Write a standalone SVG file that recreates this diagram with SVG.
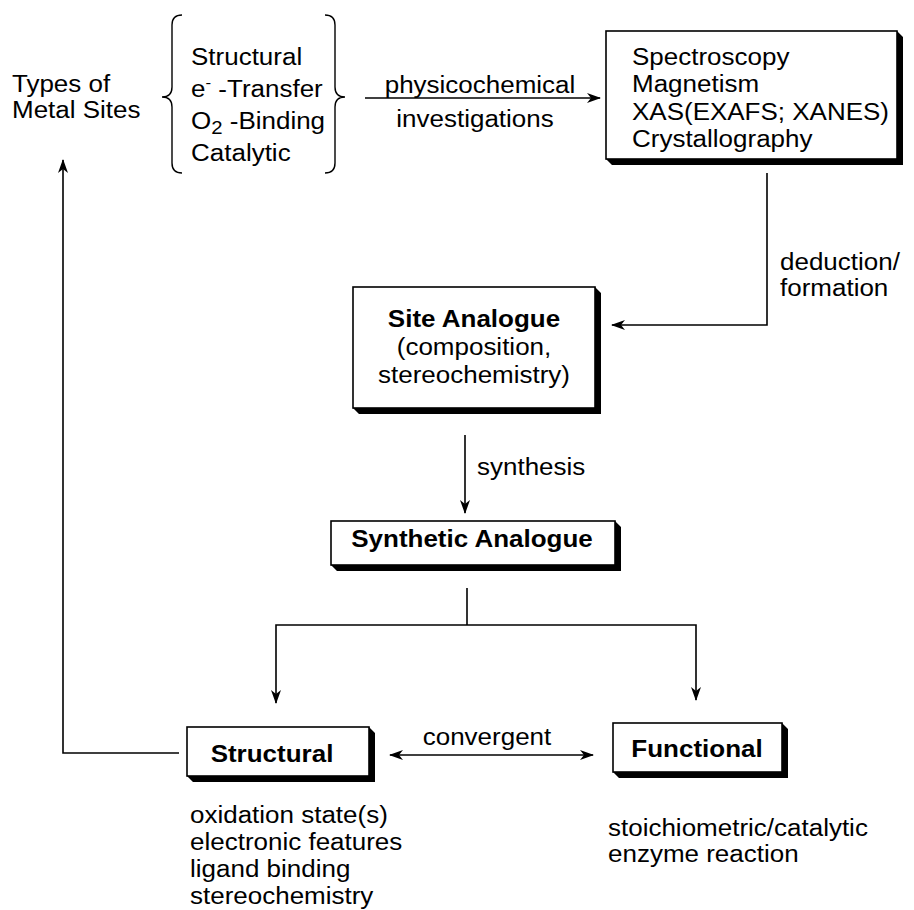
<svg xmlns="http://www.w3.org/2000/svg" width="914" height="910" viewBox="0 0 914 910">
<style>
text{font-family:"Liberation Sans",Arial,sans-serif;font-size:23px;fill:#000}
.b{font-weight:bold}
.m{text-anchor:middle}
.box{fill:#fff;stroke:#000;stroke-width:1.6}
.sh{fill:#000}
.ln{fill:none;stroke:#000;stroke-width:1.6}
.br{fill:none;stroke:#000;stroke-width:1.4}
</style>
<defs>
<marker id="ah" viewBox="0 0 14 10" refX="13" refY="5" markerWidth="14" markerHeight="10" markerUnits="userSpaceOnUse" orient="auto-start-reverse">
<path d="M0,0 L14,5 L0,10 L4,5 z" fill="#000"/>
</marker>
</defs>

<g id="types">
<text transform="translate(12,92) scale(1.13,1)"><tspan x="0" y="0">Types of</tspan><tspan x="0" y="26">Metal Sites</tspan></text>
</g>

<g id="site-types">
<path class="br" d="M182,15 Q172,15 172,25 L172,87 Q172,97 162,97 Q172,97 172,107 L172,163 Q172,173 182,173"/>
<path class="br" d="M325,15 Q335,15 335,25 L335,87 Q335,97 345,97 Q335,97 335,107 L335,163 Q335,173 325,173"/>
<text transform="translate(191,65) scale(1.13,1)"><tspan x="0" y="0">Structural</tspan><tspan x="0" y="32">e</tspan><tspan font-size="15" dy="-9">-</tspan><tspan dy="9"> -Transfer</tspan><tspan x="0" y="64">O</tspan><tspan font-size="18" dy="5">2</tspan><tspan dy="-5"> -Binding</tspan><tspan x="0" y="96">Catalytic</tspan></text>
</g>

<g id="methods">
<polygon class="sh" points="897,31 903,37 903,165 612,165 606,159 897,159"/>
<rect class="box" x="606" y="31" width="291" height="128"/>
<text transform="translate(632,65) scale(1.13,1)"><tspan x="0" y="0">Spectroscopy</tspan><tspan x="0" y="27.5">Magnetism</tspan><tspan x="0" y="55">XAS(EXAFS; XANES)</tspan><tspan x="0" y="82.5">Crystallography</tspan></text>
</g>

<g id="site-analogue">
<polygon class="sh" points="595,287 601,293 601,414 359,414 353,408 595,408"/>
<rect class="box" x="353" y="287" width="242" height="121"/>
<text class="m" transform="translate(474,327) scale(1.13,1)"><tspan class="b" x="0" y="0">Site Analogue</tspan><tspan x="0" y="28">(composition,</tspan><tspan x="0" y="56">stereochemistry)</tspan></text>
</g>

<g id="synthetic-analogue">
<polygon class="sh" points="615,521 621,527 621,571 337,571 331,565 615,565"/>
<rect class="box" x="331" y="521" width="284" height="44"/>
<text class="m b" transform="translate(472,547) scale(1.13,1)">Synthetic Analogue</text>
</g>

<g id="structural">
<polygon class="sh" points="369,727 375,733 375,782 193,782 187,776 369,776"/>
<rect class="box" x="187" y="727" width="182" height="49"/>
<text class="m b" transform="translate(272,762) scale(1.13,1)">Structural</text>
<text transform="translate(190,823) scale(1.13,1)"><tspan x="0" y="0">oxidation state(s)</tspan><tspan x="0" y="27">electronic features</tspan><tspan x="0" y="54">ligand binding</tspan><tspan x="0" y="81">stereochemistry</tspan></text>
</g>

<g id="functional">
<polygon class="sh" points="782,723 788,729 788,778 619,778 613,772 782,772"/>
<rect class="box" x="613" y="723" width="169" height="49"/>
<text class="m b" transform="translate(697,757) scale(1.13,1)">Functional</text>
<text transform="translate(608,836) scale(1.13,1)"><tspan x="0" y="0">stoichiometric/catalytic</tspan><tspan x="0" y="26">enzyme reaction</tspan></text>
</g>

<g id="connectors">
<line class="ln" x1="365" y1="98" x2="600" y2="98" marker-end="url(#ah)"/>
<text class="m" transform="translate(480,93) scale(1.13,1)">physicochemical</text>
<text class="m" transform="translate(475,127) scale(1.13,1)">investigations</text>

<polyline class="ln" points="767,173 767,325 612,325" marker-end="url(#ah)"/>
<text transform="translate(780,270) scale(1.13,1)"><tspan x="0" y="0">deduction/</tspan><tspan x="0" y="26">formation</tspan></text>

<line class="ln" x1="465" y1="435" x2="465" y2="513" marker-end="url(#ah)"/>
<text transform="translate(477,475) scale(1.13,1)">synthesis</text>

<line class="ln" x1="467" y1="588" x2="467" y2="625"/>
<polyline class="ln" points="276,703 276,625 696,625 696,700" marker-start="url(#ah)" marker-end="url(#ah)"/>

<line class="ln" x1="390" y1="755" x2="593" y2="755" marker-start="url(#ah)" marker-end="url(#ah)"/>
<text class="m" transform="translate(487,745) scale(1.13,1)">convergent</text>

<polyline class="ln" points="179,753 63,753 63,160" marker-end="url(#ah)"/>
</g>
</svg>
